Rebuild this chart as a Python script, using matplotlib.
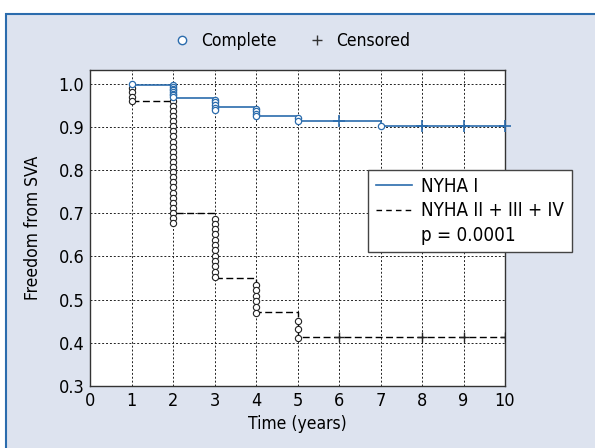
import matplotlib
matplotlib.use('Agg')
from matplotlib import pyplot as plt
from matplotlib.lines import Line2D
from matplotlib.patches import Rectangle

plt.rcParams['font.family'] = ['DejaVu Sans']
plt.rcParams['font.stretch'] = 'condensed'

# NYHA I step curve (solid blue)
nyha1_t = [1, 2, 3, 4, 5, 7, 10]
nyha1_s = [0.998, 0.968, 0.946, 0.925, 0.915, 0.902, 0.902]
# complete events (circles)
nyha1_evt_t = [1, 2, 2, 2, 2, 2, 2, 2, 2, 3, 3, 3, 3, 3, 4, 4, 4, 4, 5, 5, 7]
nyha1_evt_s = [1.0, 0.997, 0.993, 0.989, 0.985, 0.981, 0.977, 0.973, 0.969,
               0.963, 0.957, 0.951, 0.945, 0.940, 0.942, 0.937, 0.931, 0.925,
               0.920, 0.915, 0.902]
nyha1_cens_t = [6, 8, 9, 10]
nyha1_cens_s = [0.915, 0.902, 0.902, 0.902]

# NYHA II + III + IV step curve (dashed black)
nyha2_t = [1, 2, 3, 4, 5, 10]
nyha2_s = [0.961, 0.700, 0.550, 0.472, 0.413, 0.413]
nyha2_evt_t = [1] * 4 + [2] * 25 + [3] * 12 + [4] * 6 + [5] * 3
nyha2_evt_s = [0.990, 0.980, 0.970, 0.961,
               0.961, 0.949, 0.937, 0.925, 0.914, 0.902, 0.890, 0.878, 0.866,
               0.854, 0.843, 0.831, 0.819, 0.807, 0.795, 0.784, 0.772, 0.760,
               0.748, 0.736, 0.724, 0.713, 0.701, 0.689, 0.677,
               0.688, 0.676, 0.663, 0.651, 0.639, 0.626, 0.614, 0.601, 0.589,
               0.577, 0.564, 0.552,
               0.535, 0.522, 0.509, 0.496, 0.483, 0.470,
               0.451, 0.431, 0.412]
nyha2_cens_t = [6, 8, 9, 10]
nyha2_cens_s = [0.413, 0.413, 0.413, 0.413]

xticks = list(range(0, 11))
yticks = [0.3, 0.4, 0.5, 0.6, 0.7, 0.8, 0.9, 1.0]

blue = '#2b6cad'
fs = 13

fig = plt.figure(figsize=(5.95, 4.48), dpi=100)
fig.patch.set_facecolor('white')
fig.add_artist(Rectangle((6 / 595, -0.01), 1.0, (448 - 14) / 448 + 0.01,
                         transform=fig.transFigure, facecolor='#dde3ef',
                         edgecolor=blue, lw=1.5, zorder=-10))

ax = fig.add_axes([90 / 595, 1 - 386 / 448, 415 / 595, 316 / 448])
ax.set_facecolor('white')

ax.step(nyha2_t, nyha2_s, where='post', color='black', lw=1.0,
        linestyle=(0, (5, 2.5)), zorder=3)
ax.plot(nyha2_evt_t, nyha2_evt_s, 'o', ms=4.5, mfc='white', mec='#222222',
        mew=0.8, zorder=4)
ax.plot(nyha2_cens_t, nyha2_cens_s, '+', ms=7, color='#222222', mew=1.0,
        zorder=4)

ax.step(nyha1_t, nyha1_s, where='post', color=blue, lw=1.2, zorder=5)
ax.plot(nyha1_evt_t, nyha1_evt_s, 'o', ms=4.5, mfc='white', mec=blue,
        mew=0.9, zorder=6)
ax.plot(nyha1_cens_t, nyha1_cens_s, '+', ms=8, color=blue, mew=1.2,
        zorder=6, clip_on=False)

ax.set_xlim(0, 10)
ax.set_ylim(0.3, 1.032)
ax.set_xticks(xticks)
ax.set_yticks(yticks)
ax.set_xticklabels([str(v) for v in xticks], fontsize=fs)
ax.set_yticklabels(['%.1f' % v for v in yticks], fontsize=fs)
ax.tick_params(length=0, pad=4)
ax.grid(True, color='#222222', linestyle=(0, (2, 2)), lw=0.7)
ax.set_axisbelow(True)
for s in ax.spines.values():
    s.set_color('#333333')
    s.set_linewidth(1.0)

ax.set_xlabel('Time (years)', fontsize=12.5, labelpad=4)
ax.set_ylabel('Freedom from SVA', fontsize=12.5, labelpad=12)

handles = [Line2D([], [], color=blue, lw=1.2),
           Line2D([], [], color='black', lw=1.0, linestyle=(0, (4, 3))),
           Line2D([], [], color='none')]
leg = ax.legend(handles, ['NYHA I', 'NYHA II + III + IV', 'p = 0.0001'],
                loc='upper left', bbox_to_anchor=(0.67, 0.685), fontsize=13.5,
                frameon=True, fancybox=False, framealpha=1, edgecolor='#444444',
                handlelength=1.95, handletextpad=0.5, borderaxespad=0,
                labelspacing=0.28, borderpad=0.4)
leg.get_frame().set_linewidth(1.0)

top = [Line2D([], [], linestyle='none', marker='o', ms=6, mfc='white',
              mec=blue, mew=1.0),
       Line2D([], [], linestyle='none', marker='+', ms=7, color='#333333',
              mew=1.0)]
fig.legend(top, ['Complete', 'Censored'], loc='center',
           bbox_to_anchor=(0.49, 1 - 41 / 448), ncol=2, frameon=False,
           fontsize=12.5, handlelength=1.0, handletextpad=0.6,
           columnspacing=1.8)

fig.savefig('out.png', dpi=100)
